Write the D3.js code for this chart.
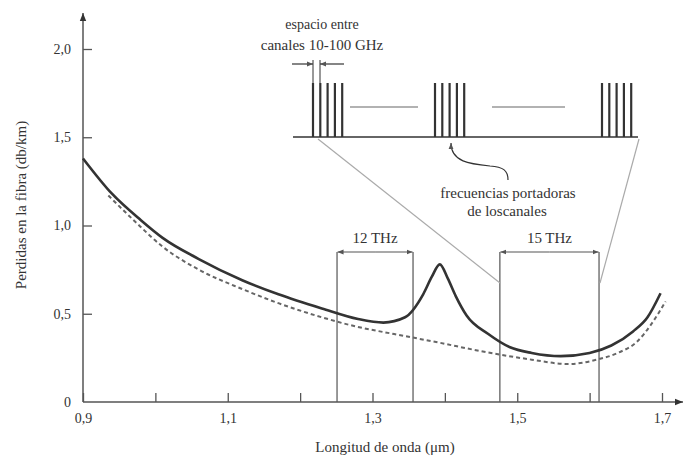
<!DOCTYPE html>
<html>
<head>
<meta charset="utf-8">
<script src="https://cdn.jsdelivr.net/npm/d3@7"></script>
<style>
  body { margin: 0; background: #fff; }
  text { font-family: 'Liberation Serif', 'DejaVu Serif', serif; fill: #333; }
</style>
</head>
<body>
<svg id="svg-container" width="684" height="467"></svg>
<script>
// Loss curve with the water peak (solid)
var solidLambda = [0.90, 0.94, 0.98, 1.01, 1.06, 1.12, 1.17, 1.23, 1.28, 1.315, 1.345, 1.37, 1.382, 1.393, 1.404, 1.415, 1.43, 1.46, 1.49, 1.52, 1.56, 1.60, 1.63, 1.66, 1.68, 1.698];
var solidLoss   = [1.38, 1.18, 1.03, 0.93, 0.81, 0.69, 0.61, 0.53, 0.47, 0.45, 0.48, 0.61, 0.71, 0.78, 0.70, 0.60, 0.49, 0.385, 0.31, 0.278, 0.26, 0.278, 0.32, 0.40, 0.48, 0.616];
// Loss curve without the peak (dashed)
var dashLambda = [0.935, 0.97, 1.01, 1.06, 1.12, 1.17, 1.23, 1.28, 1.33, 1.39, 1.45, 1.52, 1.57, 1.61, 1.64, 1.665, 1.685, 1.705];
var dashLoss   = [1.17, 1.03, 0.88, 0.75, 0.64, 0.56, 0.48, 0.425, 0.385, 0.338, 0.288, 0.24, 0.215, 0.24, 0.28, 0.34, 0.44, 0.57];
// Windows
var bandStart = [1.251, 1.476],
    bandEnd = [1.356, 1.613],
    bandLabels = ['12 THz', '15 THz'],
    bandTop = 0.85;
// Ticks
var xTicks = [0.9, 1.0, 1.1, 1.2, 1.3, 1.4, 1.5, 1.6, 1.7],
    xTickLabels = ['0,9', '', '1,1', '', '1,3', '', '1,5', '', '1,7'],
    yTicks = [0, 0.5, 1.0, 1.5, 2.0],
    yTickLabels = ['0', '0,5', '1,0', '1,5', '2,0'];

var svg = d3.select('#svg-container');
var x = d3.scaleLinear().domain([0.9, 1.7]).range([83, 662]),
    y = d3.scaleLinear().domain([0, 2]).range([402, 49]);
var ink = '#333', grey = '#555';

// Arrow markers
var defs = svg.append('defs');
function marker(id, size, col) {
	defs.append('marker')
        .attr('id', id)
        .attr('viewBox', '0 0 10 10')
        .attr('refX', 10).attr('refY', 5)
        .attr('markerWidth', size).attr('markerHeight', size)
        .attr('markerUnits', 'userSpaceOnUse')
        .attr('orient', 'auto')
        .append('path').attr('d', 'M0,1 L10,5 L0,9 Z').attr('fill', col);
}
marker('arr', 8, ink);
marker('arrSmall', 6, grey);

// Axis lines with arrows
svg.append('line').attr('x1', 83).attr('y1', 402).attr('x2', 83).attr('y2', 13)
    .attr('stroke', grey).attr('stroke-width', 1.5).attr('marker-end', 'url(#arr)');
svg.append('line').attr('x1', 83).attr('y1', 402).attr('x2', 683).attr('y2', 402)
    .attr('stroke', grey).attr('stroke-width', 1.5).attr('marker-end', 'url(#arr)');

var xAxis = svg.append('g').attr('transform', 'translate(0,402)')
    .call(d3.axisBottom(x).tickValues(xTicks).tickSizeInner(-9).tickSizeOuter(0).tickPadding(11)
        .tickFormat(function (d, i) { return xTickLabels[i]; }));
var yAxis = svg.append('g').attr('transform', 'translate(83,0)')
    .call(d3.axisLeft(y).tickValues(yTicks).tickSizeInner(-9).tickSizeOuter(0).tickPadding(12)
        .tickFormat(function (d, i) { return yTickLabels[i]; }));
[xAxis, yAxis].forEach(function (a) {
	a.select('.domain').remove();
	a.selectAll('line').attr('stroke', grey).attr('stroke-width', 1.3);
	a.selectAll('text').attr('font-size', 14).style('font-family', "'Liberation Serif', serif").attr('fill', ink);
});
yAxis.selectAll('.tick').filter(function (d) { return d === 0; }).select('line').remove();

// Axis titles
svg.append('text').attr('x', 385).attr('y', 452).attr('text-anchor', 'middle')
    .attr('font-size', 15).text('Longitud de onda (\u03bcm)');
svg.append('text').attr('transform', 'translate(26,205) rotate(-90)').attr('text-anchor', 'middle')
    .attr('font-size', 15).text('Perdidas en la fibra (db/km)');

// Windows
var bands = svg.append('g').attr('class', 'bands');
bandStart.forEach(function (b, i) {
	var x0 = x(b), x1 = x(bandEnd[i]), yt = y(bandTop);
	bands.append('path').attr('d', 'M' + x0 + ',' + y(0) + 'V' + yt + 'M' + x1 + ',' + y(0) + 'V' + yt)
        .attr('stroke', grey).attr('stroke-width', 1.2).attr('fill', 'none');
	var mid = (x0 + x1) / 2;
	bands.append('line').attr('x1', mid).attr('y1', yt).attr('x2', x0 + 0.5).attr('y2', yt)
        .attr('stroke', grey).attr('stroke-width', 1.2).attr('marker-end', 'url(#arrSmall)');
	bands.append('line').attr('x1', mid).attr('y1', yt).attr('x2', x1 - 0.5).attr('y2', yt)
        .attr('stroke', grey).attr('stroke-width', 1.2).attr('marker-end', 'url(#arrSmall)');
	bands.append('text').attr('x', mid).attr('y', yt - 9).attr('text-anchor', 'middle')
        .attr('font-size', 15).text(bandLabels[i]);
});

// Curves
var line = d3.line().x(function (d) { return x(d[0]); }).y(function (d) { return y(d[1]); })
    .curve(d3.curveMonotoneX);
svg.append('path').datum(d3.zip(dashLambda, dashLoss)).attr('d', line)
    .attr('fill', 'none').attr('stroke', '#666').attr('stroke-width', 2).attr('stroke-dasharray', '4,3');
svg.append('path').datum(d3.zip(solidLambda, solidLoss)).attr('d', line)
    .attr('fill', 'none').attr('stroke', ink).attr('stroke-width', 2.6);

// Inset: channel spectrum
var inset = svg.append('g').attr('class', 'inset');
var baseY = 137, topY = 83,
    groupX = [313, 435, 602],
    chanStep = 7.3,
    nChan = 5;
// Zoom lines down to the 15 THz window
inset.append('line').attr('x1', 318).attr('y1', 139).attr('x2', 500).attr('y2', 283)
    .attr('stroke', '#aaa').attr('stroke-width', 1.2);
inset.append('line').attr('x1', 639).attr('y1', 139).attr('x2', 600).attr('y2', 283)
    .attr('stroke', '#aaa').attr('stroke-width', 1.2);
inset.append('line').attr('x1', 293).attr('y1', baseY).attr('x2', 638).attr('y2', baseY)
    .attr('stroke', ink).attr('stroke-width', 1.6);
groupX.forEach(function (gx) {
	for (var c = 0; c < nChan; c++) {
		inset.append('line').attr('x1', gx + c * chanStep).attr('x2', gx + c * chanStep)
            .attr('y1', baseY).attr('y2', topY)
            .attr('stroke', ink).attr('stroke-width', 2.2);
	}
});
// Ellipsis dashes between groups
[[350, 418], [492, 565]].forEach(function (s) {
	inset.append('line').attr('x1', s[0]).attr('x2', s[1]).attr('y1', 107).attr('y2', 107)
        .attr('stroke', '#999').attr('stroke-width', 1.5);
});
// Channel spacing arrows
inset.append('path').attr('d', 'M313,60V83M320,60V83').attr('stroke', ink).attr('stroke-width', 1);
inset.append('line').attr('x1', 292).attr('y1', 64).attr('x2', 313).attr('y2', 64)
    .attr('stroke', ink).attr('stroke-width', 1.2).attr('marker-end', 'url(#arrSmall)');
inset.append('line').attr('x1', 344).attr('y1', 64).attr('x2', 320).attr('y2', 64)
    .attr('stroke', ink).attr('stroke-width', 1.2).attr('marker-end', 'url(#arrSmall)');
inset.append('text').attr('x', 322).attr('y', 29).attr('text-anchor', 'middle')
    .attr('font-size', 14).text('espacio entre');
inset.append('text').attr('x', 322).attr('y', 50).attr('text-anchor', 'middle')
    .attr('font-size', 15).text('canales 10-100 GHz');
// Carrier frequencies pointer
inset.append('path').attr('d', 'M508,180 C508,170 503,167 490,166 C470,164 451,162 451,143')
    .attr('fill', 'none').attr('stroke', ink).attr('stroke-width', 1.2).attr('marker-end', 'url(#arrSmall)');
inset.append('text').attr('x', 508).attr('y', 198).attr('text-anchor', 'middle')
    .attr('font-size', 15).text('frecuencias portadoras');
inset.append('text').attr('x', 507).attr('y', 216).attr('text-anchor', 'middle')
    .attr('font-size', 15).text('de loscanales');
</script>
</body>
</html>
